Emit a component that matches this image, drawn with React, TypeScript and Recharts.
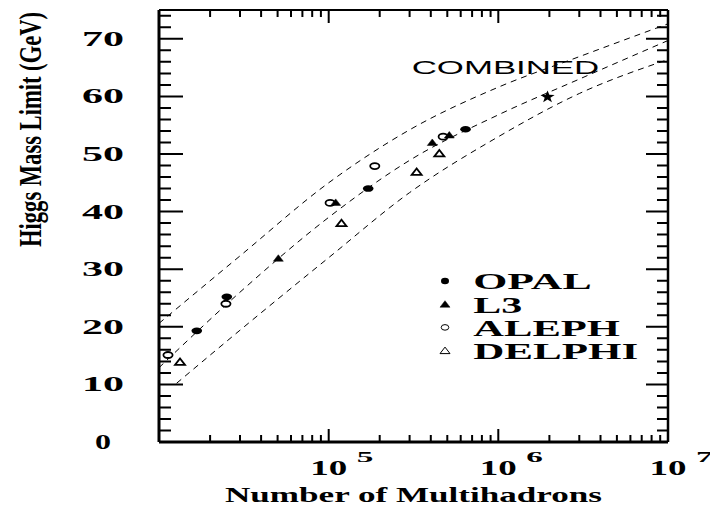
import React from 'react';
import { ComposedChart, Scatter, Line, XAxis, YAxis, Customized } from 'recharts';

// measured limits per experiment (multihadrons, GeV)
const opal = [
  { x: 1.67e4, y: 19.3 },
  { x: 2.51e4, y: 25.2 },
  { x: 1.71e5, y: 44.0 },
  { x: 6.41e5, y: 54.3 },
];
const l3 = [
  { x: 5.05e4, y: 31.9 },
  { x: 1.1e5, y: 41.6 },
  { x: 4.08e5, y: 52.0 },
  { x: 5.14e5, y: 53.3 },
];
const aleph = [
  { x: 1.13e4, y: 15.1 },
  { x: 2.48e4, y: 24.0 },
  { x: 1.02e5, y: 41.5 },
  { x: 1.87e5, y: 47.9 },
  { x: 4.73e5, y: 53.0 },
];
const delphi = [
  { x: 1.33e4, y: 13.9 },
  { x: 1.19e5, y: 38.0 },
  { x: 3.3e5, y: 46.9 },
  { x: 4.49e5, y: 50.1 },
];
const combined = [{ x: 1.95e6, y: 59.9 }];

// dashed bands
const bandUpper = [
  { x: 1e4, y: 20.6 }, { x: 3e4, y: 32.3 }, { x: 1e5, y: 45.0 }, { x: 3e5, y: 54.2 },
  { x: 1e6, y: 61.6 }, { x: 3e6, y: 66.9 }, { x: 1e7, y: 72.6 },
];
const bandMiddle = [
  { x: 1e4, y: 12.9 }, { x: 3e4, y: 26.0 }, { x: 1e5, y: 39.0 }, { x: 3e5, y: 48.9 },
  { x: 1e6, y: 56.8 }, { x: 3e6, y: 63.0 }, { x: 1e7, y: 69.7 },
];
const bandLower = [
  { x: 1.27e4, y: 10.2 }, { x: 3e4, y: 19.4 }, { x: 1e5, y: 32.0 }, { x: 3e5, y: 43.3 },
  { x: 1e6, y: 53.0 }, { x: 3e6, y: 60.5 }, { x: 1e7, y: 66.4 },
];

const xTicks = [
  2e4, 3e4, 4e4, 5e4, 6e4, 7e4, 8e4, 9e4, 1e5,
  2e5, 3e5, 4e5, 5e5, 6e5, 7e5, 8e5, 9e5, 1e6,
  2e6, 3e6, 4e6, 5e6, 6e6, 7e6, 8e6, 9e6, 1e7,
];
const xMajor = [1e5, 1e6, 1e7];
const xExponents = ['5', '6', '7'];
const yTicks = [
  2, 4, 6, 8, 10, 12, 14, 16, 18, 20, 22, 24, 26, 28, 30, 32, 34, 36,
  38, 40, 42, 44, 46, 48, 50, 52, 54, 56, 58, 60, 62, 64, 66, 68, 70, 72, 74,
];
const legendNames = ['OPAL', 'L3', 'ALEPH', 'DELPHI'];

const W = 710;
const H = 508;
const LEFT = 159;
const TOP = 10;
const RIGHT = 668;
const BOTTOM = 442;
const X_MIN = 1e4;
const X_MAX = 1e7;
const Y_MAX = 75;
const SERIF = "'Liberation Serif', 'Times New Roman', serif";
const SANS = "'Liberation Sans', Arial, sans-serif";

// frame tick positions (same mapping as the axes: log x, linear y)
const xPos = (v: number) =>
  LEFT + ((RIGHT - LEFT) * (Math.log10(v) - Math.log10(X_MIN))) / (Math.log10(X_MAX) - Math.log10(X_MIN));
const yPos = (v: number) => BOTTOM - ((BOTTOM - TOP) * v) / Y_MAX;

const isDecade = (v: number) => Math.abs(Math.log10(v) - Math.round(Math.log10(v))) < 1e-9;

// all inward tick marks as one path
const buildTickPath = () => {
  let d = '';
  yTicks.forEach((v) => {
    const y = yPos(v).toFixed(1);
    const major = v % 10 === 0;
    d += `M${LEFT},${y}h${major ? 24 : 12}`;
    d += `M${RIGHT},${y}h${major ? -22 : -11}`;
  });
  xTicks.forEach((v) => {
    if (v >= X_MAX) return;
    const x = xPos(v).toFixed(1);
    const len = isDecade(v) ? 13 : 7;
    d += `M${x},${BOTTOM}v${-len}`;
    d += `M${x},${TOP}v${len}`;
  });
  return d;
};

// stretched text, the original figure is very wide
const Wide = ({ x, y, len, size, bold = true, font = SERIF, children }: any) => (
  <text x={x} y={y} fontFamily={font} fontSize={size} fontWeight={bold ? 700 : 400}
    textLength={len} lengthAdjust="spacingAndGlyphs" fill="#000">
    {children}
  </text>
);

const Dot = ({ cx, cy }: any) => <ellipse cx={cx} cy={cy} rx={5.3} ry={3.3} fill="#000" />;
const Ring = ({ cx, cy }: any) => (
  <ellipse cx={cx} cy={cy} rx={4.6} ry={3} fill="#fff" stroke="#000" strokeWidth={1.8} />
);
const Tri = ({ cx, cy, open }: any) => (
  <polygon points={`${cx - 5},${cy + 3} ${cx + 5},${cy + 3} ${cx},${cy - 3.5}`}
    fill={open ? '#fff' : '#000'} stroke="#000" strokeWidth={open ? 1.8 : 0.5} />
);
const Star = ({ cx, cy }: any) => {
  const pts: string[] = [];
  for (let i = 0; i < 10; i++) {
    const r = i % 2 === 0 ? 6.5 : 2.6;
    const a = -Math.PI / 2 + (i * Math.PI) / 5;
    pts.push(`${cx + r * Math.cos(a) * 1.15},${cy + r * Math.sin(a)}`);
  }
  return <polygon points={pts.join(' ')} fill="#000" />;
};

const LeftLabel = ({ y, payload }: any) => {
  const v = payload.value;
  if (v % 10 !== 0) return <g />;
  const one = v < 10;
  return <Wide x={103 - (one ? 8 : 21)} y={y + 7} len={one ? 16 : 42} size={20}>{v}</Wide>;
};

const BottomLabel = ({ x, payload }: any) => {
  const idx = xMajor.indexOf(payload.value);
  if (idx < 0) return <g />;
  return (
    <g>
      <Wide x={x - 18.5} y={BOTTOM + 33} len={37} size={20}>10</Wide>
      <Wide x={x + 28} y={BOTTOM + 19.7} len={16.6} size={15}>{xExponents[idx]}</Wide>
    </g>
  );
};

const legendMarks = [
  (cx: number, cy: number) => <ellipse cx={cx} cy={cy} rx={4} ry={3.3} fill="#000" />,
  (cx: number, cy: number) => <Tri cx={cx} cy={cy} />,
  (cx: number, cy: number) => <ellipse cx={cx} cy={cy} rx={3.8} ry={2.8} fill="#fff" stroke="#000" strokeWidth={1} />,
  (cx: number, cy: number) => (
    <polygon points={`${cx - 5},${cy + 3} ${cx + 5},${cy + 3} ${cx},${cy - 3.5}`} fill="#fff" stroke="#000" strokeWidth={1} />
  ),
];
const legendLens = [118.4, 49, 146.7, 165];

const Decor = () => (
  <g>
    <text transform="translate(41,129.5) rotate(-90) scale(1,1.4)" x={-117.5} y={0} fontFamily={SERIF}
      fontSize={22} fontWeight={700} textLength={235} lengthAdjust="spacingAndGlyphs" fill="#000">
      Higgs Mass Limit (GeV)
    </text>
    <Wide x={225} y={501.7} len={377} size={22}>Number of Multihadrons</Wide>
    <Wide x={411.7} y={74} len={187.6} size={18} bold={false} font={SANS}>COMBINED</Wide>
    {legendNames.map((name, i) => (
      <g key={name}>
        {legendMarks[i](445, 281 + i * 23.2)}
        <Wide x={473.3} y={289.3 + i * 23.2} len={legendLens[i]} size={23}>{name}</Wide>
      </g>
    ))}
  </g>
);

export default function App() {
  return (
    <div style={{ position: 'absolute', left: 0, top: 0, width: W, height: H, background: '#fff' }}>
      <ComposedChart width={W} height={H} margin={{ top: 0, right: 0, bottom: 0, left: 0 }}>
        <XAxis xAxisId={0} dataKey="x" type="number" scale="log" domain={[X_MIN, X_MAX]} allowDataOverflow
          ticks={xTicks} interval={0} height={H - BOTTOM} tick={<BottomLabel />}
          tickLine={false} tickSize={0} axisLine={{ stroke: '#000', strokeWidth: 3 }} />
        <XAxis xAxisId="top" orientation="top" type="number" scale="log" domain={[X_MIN, X_MAX]}
          allowDataOverflow ticks={xTicks} interval={0} height={TOP} tick={false} tickLine={false}
          axisLine={{ stroke: '#000', strokeWidth: 2 }} />
        <YAxis yAxisId={0} dataKey="y" type="number" domain={[0, Y_MAX]} allowDataOverflow
          ticks={[0, ...yTicks]} interval={0} width={LEFT} tick={<LeftLabel />} tickLine={false} tickSize={0}
          axisLine={{ stroke: '#000', strokeWidth: 3 }} />
        <YAxis yAxisId="right" orientation="right" type="number" domain={[0, Y_MAX]} allowDataOverflow
          ticks={yTicks} interval={0} width={W - RIGHT} tick={false} tickLine={false}
          axisLine={{ stroke: '#000', strokeWidth: 2.5 }} />

        <Line data={bandUpper} dataKey="y" type="monotone" stroke="#000" strokeWidth={1}
          strokeDasharray="6 5" dot={false} activeDot={false} isAnimationActive={false} />
        <Line data={bandMiddle} dataKey="y" type="monotone" stroke="#000" strokeWidth={1}
          strokeDasharray="6 5" dot={false} activeDot={false} isAnimationActive={false} />
        <Line data={bandLower} dataKey="y" type="monotone" stroke="#000" strokeWidth={1}
          strokeDasharray="6 5" dot={false} activeDot={false} isAnimationActive={false} />
        <Scatter data={opal} shape={(p: any) => <Dot {...p} />} isAnimationActive={false} />
        <Scatter data={aleph} shape={(p: any) => <Ring {...p} />} isAnimationActive={false} />
        <Scatter data={l3} shape={(p: any) => <Tri cx={p.cx} cy={p.cy} />} isAnimationActive={false} />
        <Scatter data={delphi} shape={(p: any) => <Tri cx={p.cx} cy={p.cy} open />} isAnimationActive={false} />
        <Scatter data={combined} shape={(p: any) => <Star {...p} />} isAnimationActive={false} />
        <Customized component={Decor} />
      </ComposedChart>
      <svg width={W} height={H} style={{ position: 'absolute', left: 0, top: 0, pointerEvents: 'none' }}>
        <path d={buildTickPath()} stroke="#000" strokeWidth={2} fill="none" />
      </svg>
    </div>
  );
}
